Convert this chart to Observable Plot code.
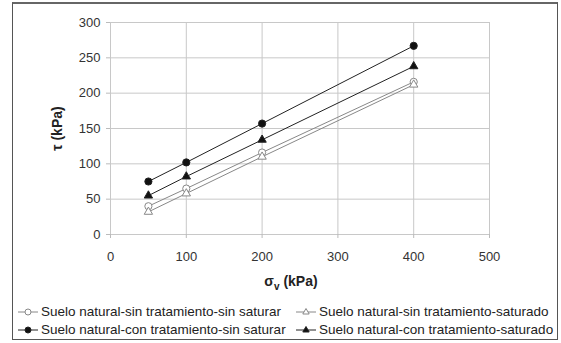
<!DOCTYPE html>
<html><head><meta charset="utf-8">
<script src="https://cdn.jsdelivr.net/npm/d3@7"></script>
<script src="https://cdn.jsdelivr.net/npm/@observablehq/plot@0.6"></script>
<style>
body{margin:0;background:#fff;font-family:"Liberation Sans",Arial,sans-serif;}
#wrap{position:relative;width:561px;height:343px;overflow:hidden;}
#frame{position:absolute;left:12px;top:2px;width:546px;height:338px;border:1px solid #555;border-top:2px solid #666;box-sizing:border-box;}
#chart{position:absolute;left:0;top:0;}
#xlabel{position:absolute;left:0;width:582px;top:273px;text-align:center;font-weight:bold;font-size:14px;color:#222;}
#xlabel sub{font-size:10px;}
.leg{position:absolute;font-size:13.5px;color:#222;white-space:nowrap;display:flex;align-items:center;}
.leg svg{margin-right:2px;}
</style></head>
<body><div id="wrap"><div id="frame"></div><div id="chart"></div>
<div id="xlabel">σ<sub>v</sub> (kPa)</div>
<div id="legend"></div></div>
<script>
const sigma = [50, 100, 200, 400];
const seriesNames = [
  "Suelo natural-sin tratamiento-sin saturar",
  "Suelo natural-sin tratamiento-saturado",
  "Suelo natural-con tratamiento-sin saturar",
  "Suelo natural-con tratamiento-saturado"
];
const tauSinSinSat = [40, 65, 116, 216];
const tauSinSat = [32, 58, 110, 212];
const tauConSinSat = [75, 102, 157, 267];
const tauConSat = [55, 82, 134, 238];
const seriesValues = [tauSinSinSat, tauSinSat, tauConSinSat, tauConSat];
const xTicks = [0, 100, 200, 300, 400, 500];
const yTicks = [0, 50, 100, 150, 200, 250, 300];

const styles = [
  {stroke:"#888", fill:"white", symbol:"circle", r:3.6},
  {stroke:"#888", fill:"white", symbol:"triangle", r:3.1},
  {stroke:"#222", fill:"#111", symbol:"circle", r:3.6},
  {stroke:"#222", fill:"#111", symbol:"triangle", r:3.1}
];
const data = [];
seriesNames.forEach((s, i) => sigma.forEach((x, j) => data.push({s, i, x, y: seriesValues[i][j]})));

const marks = [
  Plot.gridX(xTicks, {stroke:"#c8c8c8", strokeOpacity:1, y1:0, y2:300}),
  Plot.gridY(yTicks, {stroke:"#c8c8c8", strokeOpacity:1, x1:0, x2:500}),
  Plot.axisX(xTicks, {tickSize:4, stroke:"#bbb", tickPadding:13, fontSize:13, fill:"#333", label:null}),
  Plot.axisY(yTicks, {tickSize:4, stroke:"#bbb", tickPadding:6, fontSize:13, fill:"#333",
    label:"τ (kPa)", labelAnchor:"center", labelArrow:"none", labelOffset:58}),
];
styles.forEach((st, i) => {
  const d = data.filter(r => r.i === i);
  marks.push(Plot.line(d, {x:"x", y:"y", stroke:st.stroke, strokeWidth:1}));
  marks.push(Plot.dot(d, {x:"x", y:"y", symbol:st.symbol, r:st.r, stroke:st.stroke, fill:st.fill, strokeWidth:1}));
});

const chart = Plot.plot({
  width:561, height:290,
  marginLeft:110, marginRight:72, marginTop:22, marginBottom:56,
  x:{domain:[0,500]}, y:{domain:[0,300]},
  style:{fontFamily:"Liberation Sans, Arial, sans-serif", background:"transparent"},
  marks
});
chart.querySelectorAll("[aria-label='y-axis label'] text, [aria-label='y-axis label']").forEach(t=>{t.setAttribute("font-weight","bold");t.setAttribute("font-size","14");t.setAttribute("fill","#222");});
document.getElementById("chart").appendChild(chart);

const leg = document.getElementById("legend");
const pos = [[17,304],[295,304],[17,322],[295,322]];
seriesNames.forEach((s,i)=>{
  const st = styles[i];
  const div = document.createElement("div");
  div.className="leg"; div.style.left=pos[i][0]+"px"; div.style.top=pos[i][1]+"px";
  const sym = st.symbol==="circle"
    ? `<circle cx="11" cy="7" r="3" fill="${st.fill}" stroke="${st.stroke}"/>`
    : `<path d="M11,3.5L14.2,9L7.8,9Z" fill="${st.fill}" stroke="${st.stroke}"/>`;
  div.innerHTML = `<svg width="22" height="14"><line x1="1" x2="21" y1="7" y2="7" stroke="${st.stroke}"/>${sym}</svg><span>${s}</span>`;
  leg.appendChild(div);
});
</script></body></html>
